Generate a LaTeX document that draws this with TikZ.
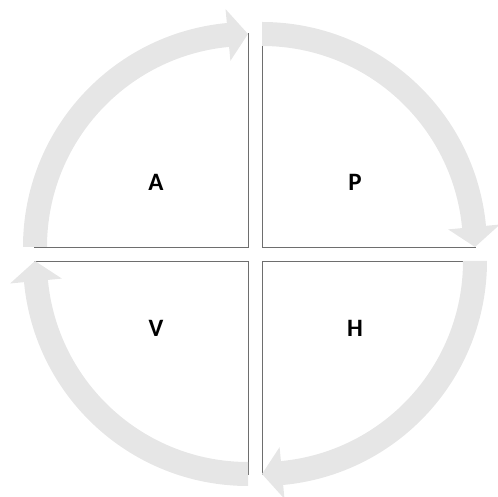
\documentclass[tikz,border=0pt]{standalone}
\usepackage{fontspec}
\setmainfont{Carlito}
\usetikzlibrary{calc}
\definecolor{bandgray}{RGB}{230,230,230}
\definecolor{edgegray}{RGB}{110,110,110}
\tikzset{
  band/.style={fill=bandgray},
  edge/.style={draw=edgegray,line width=0.9pt},
  letter/.style={font=\bfseries\fontsize{25}{30}\selectfont,text=black,inner sep=0pt}
}
\begin{document}
\begin{tikzpicture}[x=1pt,y=1pt]
\useasboundingbox (0,0) rectangle (498,497);
% quadrant corners: name / x / y / start angle / end angle of the circular arrow
\foreach \n/\cx/\cy/\a/\b in {A/248/250/180/90, P/262/250/90/0, H/262/236/0/-90, V/248/236/-90/-180}{
  \coordinate (\n) at (\cx,\cy);
  \coordinate (\n-s) at ($(\n)+(\a:214pt)$);
  \coordinate (\n-e) at ($(\n)+(\b:214pt)$);
  \draw[edge] (\n-s) -- (\n) -- (\n-e);
  \pgfmathsetmacro{\h}{\b+5.4}
  \fill[band] ($(\n)+(\a:201pt)$) arc[start angle=\a, end angle=\h, radius=201pt]
    -- ($(\n)+(\h:187pt)$) -- ($(\n)+(\b:213pt)$) -- ($(\n)+(\h:239pt)$)
    -- ($(\n)+(\h:225pt)$) arc[start angle=\h, end angle=\a, radius=225pt] -- cycle;
}
\node[letter] (la) at (156,315) {A};
\node[letter] (lp) at (355,315) {P};
\node[letter] (lv) at (156,169) {V};
\node[letter] (lh) at (355,169) {H};
\end{tikzpicture}
\end{document}
